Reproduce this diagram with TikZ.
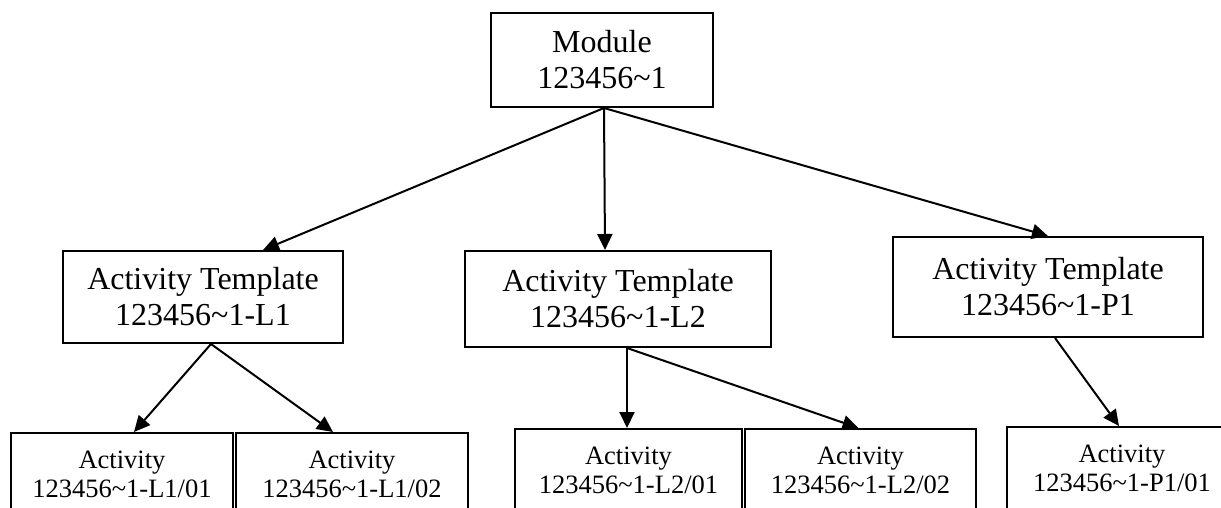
\documentclass[tikz,border=0pt]{standalone}
\usepackage{fontspec}
\setmainfont{Liberation Serif}
\usetikzlibrary{arrows.meta}

\begin{document}
\begin{tikzpicture}[x=1pt,y=-1pt,
    box/.style={draw, line width=2pt, inner sep=0pt, align=center},
    tmpl/.style={box, font=\fontsize{32}{36}\selectfont},
    act/.style={box, font=\fontsize{26.5}{29}\selectfont, minimum height=82pt},
    link/.style={line width=2pt, -{Triangle[length=16pt,width=15pt]}}]
    \useasboundingbox (0,0) rectangle (1221,508);
    \clip (0,0) rectangle (1221,508);

    \node[tmpl, minimum width=222pt, minimum height=94pt] (mod) at (602,60) {Module\\123456\textasciitilde 1};

    \node[tmpl, minimum width=280pt, minimum height=92pt] (tl1) at (203,297) {Activity Template\\123456\textasciitilde 1-L1};
    \node[tmpl, minimum width=306pt, minimum height=96pt] (tl2) at (618,299) {Activity Template\\123456\textasciitilde 1-L2};
    \node[tmpl, minimum width=310pt, minimum height=100pt] (tp1) at (1048,287) {Activity Template\\123456\textasciitilde 1-P1};

    \node[act, minimum width=222pt] (a1) at (122,474) {Activity\\123456\textasciitilde 1-L1/01};
    \node[act, minimum width=232pt] (a2) at (352,474) {Activity\\123456\textasciitilde 1-L1/02};
    \node[act, minimum width=227pt] (a3) at (628.5,470) {Activity\\123456\textasciitilde 1-L2/01};
    \node[act, minimum width=231pt] (a4) at (860.5,470) {Activity\\123456\textasciitilde 1-L2/02};
    \node[act, minimum width=230pt] (a5) at (1122,468) {Activity\\123456\textasciitilde 1-P1/01};

    \draw[link] ([xshift=2pt]mod.south) -- ([xshift=60pt]tl1.north);
    \draw[link] ([xshift=2pt]mod.south) -- ([xshift=-13pt]tl2.north);
    \draw[link] ([xshift=2pt]mod.south) -- (tp1.north);

    \draw[link] ([xshift=8pt]tl1.south) -- ([xshift=12pt]a1.north);
    \draw[link] ([xshift=8pt]tl1.south) -- ([xshift=-19pt]a2.north);
    \draw[link] ([xshift=9pt]tl2.south) -- ([xshift=-1.5pt]a3.north);
    \draw[link] ([xshift=9pt]tl2.south) -- ([xshift=-2pt]a4.north);
    \draw[link] ([xshift=7pt]tp1.south) -- ([xshift=-3pt]a5.north);
\end{tikzpicture}
\end{document}
